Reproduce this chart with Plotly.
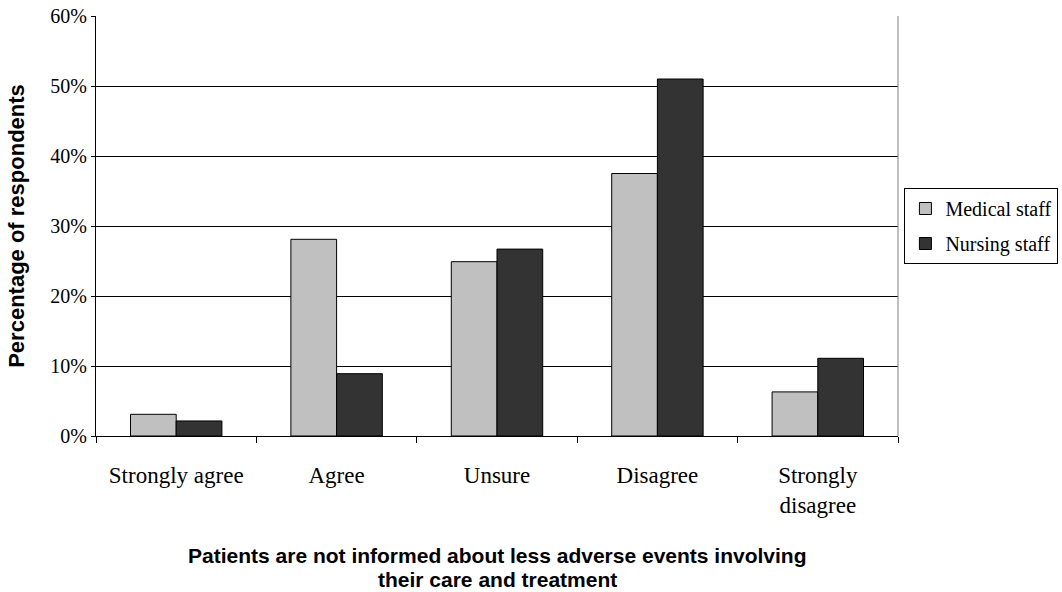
import plotly.graph_objects as go

categories = ["Strongly agree", "Agree", "Unsure", "Disagree", "Strongly<br>disagree"]
medical = [3.1, 28.1, 24.9, 37.5, 6.3]
nursing = [2.15, 8.9, 26.7, 51.0, 11.1]
y_ticks = [0, 10, 20, 30, 40, 50, 60]
y_tick_labels = ["0%", "10%", "20%", "30%", "40%", "50%", "60%"]
x_title_lines = ["Patients are not informed about less adverse events involving",
                 "their care and treatment"]

serif = "Liberation Serif, Times New Roman, serif"
sans = "Liberation Sans, Arial, sans-serif"

fig = go.Figure()
fig.add_trace(go.Bar(name="Medical staff", x=categories, y=medical, legendgroup="m",
                     marker=dict(color="#C0C0C0", line=dict(color="black", width=1))))
fig.add_trace(go.Bar(name="Nursing staff", x=categories, y=nursing, legendgroup="n",
                     marker=dict(color="#333333", line=dict(color="black", width=1))))

fig.update_layout(
    width=1062, height=592,
    margin=dict(l=96, r=164, t=16, b=156, autoexpand=False),
    paper_bgcolor="white", plot_bgcolor="white",
    barmode="group", bargap=0.43, bargroupgap=0,
    font=dict(family=serif, size=20, color="black"),
    legend=dict(x=1.008, y=0.5, xanchor="left", yanchor="middle",
                bordercolor="black", borderwidth=1,
                font=dict(family=serif, size=20, color="black"),
                itemwidth=30, tracegroupgap=6),
    showlegend=True,
)
fig.update_xaxes(
    type="category", tickson="boundaries", ticks="outside", ticklen=6,
    tickcolor="black", showline=True, linecolor="black", linewidth=1,
    showgrid=False, tickfont=dict(family=serif, size=23, color="black"),
    ticklabelstandoff=18,
)
fig.update_yaxes(
    range=[0, 60], tickvals=y_ticks, ticktext=y_tick_labels,
    ticks="outside", ticklen=4, tickcolor="black",
    showline=True, linecolor="black", linewidth=1,
    showgrid=True, gridcolor="black", gridwidth=1, zeroline=False,
    tickfont=dict(family=serif, size=20, color="black"),
)
fig.add_shape(type="line", xref="paper", yref="paper", x0=1, x1=1, y0=0, y1=1,
              line=dict(color="#808080", width=1))
fig.add_annotation(text="<b>Percentage of respondents</b>", xref="paper", yref="paper",
                   x=-0.1, y=0.5, textangle=-90, showarrow=False,
                   xanchor="center", yanchor="middle",
                   font=dict(family=sans, size=22, color="black"))
for i, line in enumerate(x_title_lines):
    fig.add_annotation(text="<b>" + line + "</b>", xref="paper", yref="paper",
                       x=0.5, y=(436 - 555 - 24 * i) / 420, showarrow=False,
                       xanchor="center", yanchor="middle",
                       font=dict(family=sans, size=21, color="black"))

fig.write_html("out.html")
